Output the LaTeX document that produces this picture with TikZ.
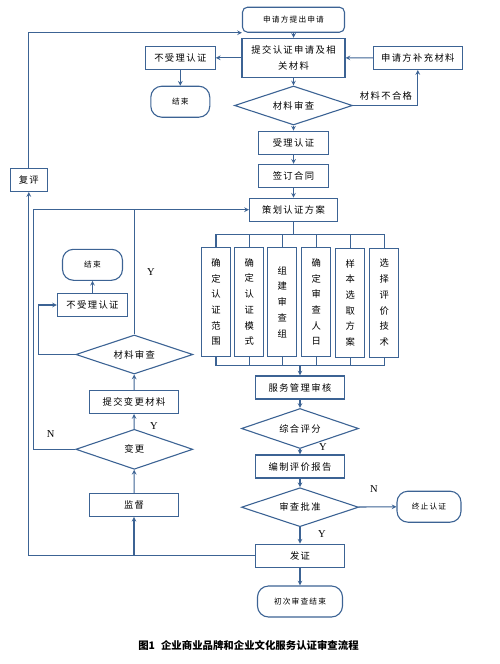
\documentclass[tikz,border=0pt]{standalone}
\usepackage{fontspec}
\setmainfont{Liberation Serif}
\newfontfamily\cjk{Noto Sans CJK SC}[LetterSpace=15]
\newfontfamily\capfont{Noto Sans CJK SC}
\usetikzlibrary{shapes.geometric}
\definecolor{flowblue}{RGB}{60,99,148}

\begin{document}
\begin{tikzpicture}[
x=1pt, y=-1pt,
>=stealth,
line width=1.1pt,
arrow/.style={draw=flowblue,->},
line/.style={draw=flowblue},
proc/.style={draw=flowblue, rectangle, inner sep=0pt, minimum width=89pt, minimum height=23pt, font=\cjk\fontsize{9.3}{16.5}\selectfont},
term/.style={draw=flowblue, rectangle, rounded corners=11pt, inner sep=0pt, minimum height=31pt, font=\cjk\fontsize{7.7}{10}\selectfont},
decide/.style={draw=flowblue, diamond, aspect=3, inner sep=0pt, minimum width=117pt, minimum height=40pt, font=\cjk\fontsize{9.3}{12}\selectfont},
col/.style={proc, minimum width=29pt, minimum height=109pt, align=center, font=\cjk\fontsize{9.3}{15.7}\selectfont},
note/.style={font=\cjk\fontsize{9.3}{12}\selectfont},
yn/.style={font=\fontsize{10.5}{12}\selectfont}
]
\useasboundingbox (0,0) rectangle (499,664);

\node[term, rounded corners=5pt, minimum width=102pt, minimum height=25pt] (apply) at (293.5,19.7) {申请方提出申请};
\node[proc, minimum width=103pt, minimum height=39pt, align=center] (submit) at (293.5,57.8) {提交认证申请及相\\关材料};
\node[proc] (supply) at (417.8,58) {申请方补充材料};
\node[proc, minimum width=70pt] (reject) at (180.3,57.8) {不受理认证};
\node[term, minimum width=59pt] (end) at (180.3,101.7) {结束};
\node[decide, minimum width=118pt, minimum height=39pt] (check) at (293.5,105.5) {材料审查};
\node[note] (fail) at (386,96) {材料不合格};
\node[proc, minimum width=70pt] (accept) at (293.5,142.7) {受理认证};
\node[proc, minimum width=70pt] (contract) at (293.5,175.8) {签订合同};
\node[proc, minimum width=88pt] (plan) at (293.5,209.7) {策划认证方案};

\node[col] (col1) at (216,302) {确\\定\\认\\证\\范\\围};
\node[col] (col2) at (249.3,302) {确\\定\\认\\证\\模\\式};
\node[col] (col3) at (282.3,302) {组\\建\\审\\查\\组};
\node[col] (col4) at (316.3,302) {确\\定\\审\\查\\人\\日};
\node[col] (col5) at (350.3,302.7) {样\\本\\选\\取\\方\\案};
\node[col] (col6) at (384.3,302.7) {选\\择\\评\\价\\技\\术};

\node[proc] (audit) at (300,387.5) {服务管理审核};
\node[decide] (score) at (300,428.5) {综合评分};
\node[proc] (report) at (300,466.5) {编制评价报告};
\node[decide, minimum height=39pt] (approve) at (300,507.2) {审查批准};
\node[term, minimum width=64pt] (stop) at (429,506.7) {终止认证};
\node[proc] (issue) at (300,555.7) {发证};
\node[term, minimum width=85pt] (finish) at (300,601.5) {初次审查结束};

\node[proc, minimum width=37pt] (review) at (28.8,180) {复评};
\node[proc] (supervise) at (134,504.8) {监督};
\node[decide] (change) at (134.3,449.3) {变更};
\node[proc] (submit2) at (134,402) {提交变更材料};
\node[decide, minimum height=39pt] (check2) at (134.3,354.5) {材料审查};
\node[proc, minimum width=70pt] (reject2) at (92.5,305) {不受理认证};
\node[term, minimum width=60pt] (end2) at (92.5,264.8) {结束};

\node[yn] (yscore) at (323,447) {Y};
\node[yn] (nstop) at (374,489) {N};
\node[yn] (yissue) at (322,534) {Y};
\node[yn] (ychange) at (154,426) {Y};
\node[yn] (nchange) at (50.7,434) {N};
\node[yn] (ycheck) at (151,272) {Y};

\node[font=\capfont\bfseries\fontsize{10.4}{12}\selectfont] (caption) at (248.5,645) {图1\hspace{6pt}企业商业品牌和企业文化服务认证审查流程};

\coordinate (topbus) at (293.5,234.3);
\coordinate (botbus) at (300,365.7);
\coordinate (ncorner) at (33.7,209.7);
\coordinate (rcorner) at (38.7,305);

% top part
\path[arrow] (apply) -- (submit);
\path[arrow] (submit) -- (reject);
\path[arrow] (reject) -- (end);
\path[arrow] (supply) -- (submit);
\path[arrow] (submit) -- (check);
\path[arrow] (check) -| (supply);
\path[arrow] (check) -- (accept);
\path[arrow] (accept) -- (contract);
\path[arrow] (contract) -- (plan);
\path[arrow] (review) |- (apply.south west);

% plan buses
\path[line] (plan) -- (topbus);
\path[line] (col1.north) |- (topbus) -| (col6.north);
\path[line] (col2.north) -- (col2.north |- topbus);
\path[line] (col3.north) -- (col3.north |- topbus);
\path[line] (col4.north) -- (col4.north |- topbus);
\path[line] (col5.north) -- (col5.north |- topbus);
\path[line] (col1.south) |- (botbus) -| (col6.south);
\path[line] (col2.south) -- (col2.south |- botbus);
\path[line] (col3.south) -- (col3.south |- botbus);
\path[line] (col4.south) -- (col4.south |- botbus);
\path[line] (col5.south) -- (col5.south |- botbus);
\path[arrow] (botbus) -- (audit);

% right column
\path[arrow] (audit) -- (score);
\path[arrow] (score) -- (report);
\path[arrow] (report) -- (approve);
\path[arrow] (approve) -- (stop);
\path[arrow] (approve) -- (issue);
\path[arrow] (issue) -- (finish);

% left loop
\path[arrow] (issue) -| (review);
\path[arrow] (issue) -| (supervise);
\path[arrow] (supervise) -- (change);
\path[arrow] (change) -- (submit2);
\path[arrow] (submit2) -- (check2);
\path[arrow] (change) -| (ncorner) -- (plan);
\path[line] (check2) -- (check2 |- ncorner);
\path[arrow] (check2) -| (rcorner) -- (reject2);
\path[arrow] (reject2) -- (end2);

\end{tikzpicture}
\end{document}
